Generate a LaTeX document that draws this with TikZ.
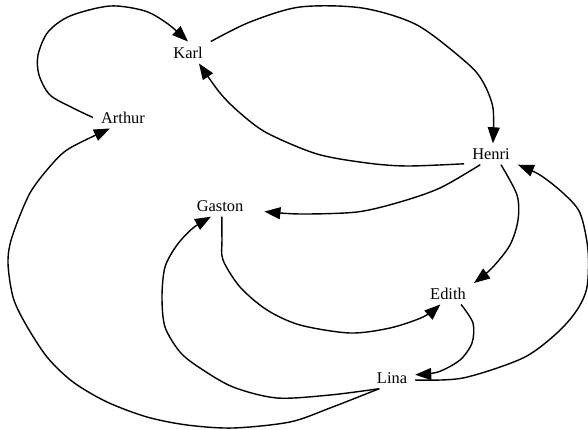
\documentclass[tikz,border=0pt]{standalone}
\usepackage{fontspec}
\setmainfont{Liberation Serif}
\usetikzlibrary{arrows.meta}

\begin{document}
\begin{tikzpicture}[x=1pt,y=-1pt]
% 1 = 1px, y runs downwards
    \def\WIDTH{588}
    \def\HEIGHT{430}
    \def\GASTONGAP{13pt} %arrow into Gaston stops short

    \tikzset{
      person/.style={inner xsep=8pt,inner ysep=5pt,
        font=\fontsize{16.4}{18}\selectfont},
      link/.style={-{Triangle[length=16pt,width=12pt]},
        line width=1.4pt,line join=round},
    }

    \useasboundingbox (0,0) rectangle (\WIDTH,\HEIGHT);

    % PEOPLE
    \node[person] (karl) at (188,52.5) {Karl};
    \node[person] (arthur) at (123,117.5) {Arthur};
    \node[person] (henri) at (491,154) {Henri};
    \node[person] (gaston) at (220,206) {Gaston};
    \node[person] (edith) at (448,293.5) {Edith};
    \node[person] (lina) at (392,378) {Lina};

    % ARTHUR TO KARL
    \draw[link] plot[smooth] coordinates {(arthur.west) (73,108) (50,95)
        (39,75) (38,55) (48,32) (70,16) (110,6) (145,11) (168,24) (karl.north)};

    % KARL TO HENRI
    \draw[link] plot[smooth] coordinates {(karl.north east) (250,22) (300,7)
        (362,8) (417,25) (467,63) (483,82) (493,108) (henri.80)};

    % HENRI TO KARL
    \draw[link] plot[smooth] coordinates {(henri.200) (407,166) (367,163)
        (317,154) (267,133) (240,113) (220,93) (karl.-45)};

    % HENRI TO GASTON
    \draw[link] plot[smooth] coordinates {(henri.-135) (440,188) (400,202)
        (357,212) (300,214) ([xshift=\GASTONGAP]gaston.-10)};

    % HENRI TO EDITH
    \draw[link] plot[smooth] coordinates {(henri.-47) (517,195) (518,220)
        (510,245) (492,268) (edith.22)};

    % EDITH TO LINA
    \draw[link] plot[smooth] coordinates {(edith.-40) (473,323) (472,343)
        (460,360) (438,372) (lina.8)};

    % LINA TO HENRI
    \draw[link] plot[smooth] coordinates {(lina.-5) (463,378) (523,358)
        (557,333) (577,310) (587,287) (588,250) (580,213) (563,193) (540,175)
        (henri.south east)};

    % GASTON TO EDITH
    \draw[link] plot[smooth] coordinates {(gaston.-80) (222,240) (223,260)
        (240,287) (267,310) (300,325) (350,333) (390,328) (423,317)
        (edith.-125)};

    % LINA TO GASTON
    \draw[link] plot[smooth] coordinates {(lina.-140) (330,395) (277,398)
        (233,387) (200,368) (180,352) (165,327) (162,297) (165,267) (177,245)
        (193,228) (gaston.-130)};

    % LINA TO ARTHUR
    \draw[link] plot[smooth] coordinates {(lina.-140) (330,408) (290,422)
        (233,428) (187,425) (147,417) (107,402) (73,382) (47,357) (25,323)
        (13,297) (8,263) (12,237) (30,193) (53,163) (70,148) (arthur.-140)};

\end{tikzpicture}
\end{document}
